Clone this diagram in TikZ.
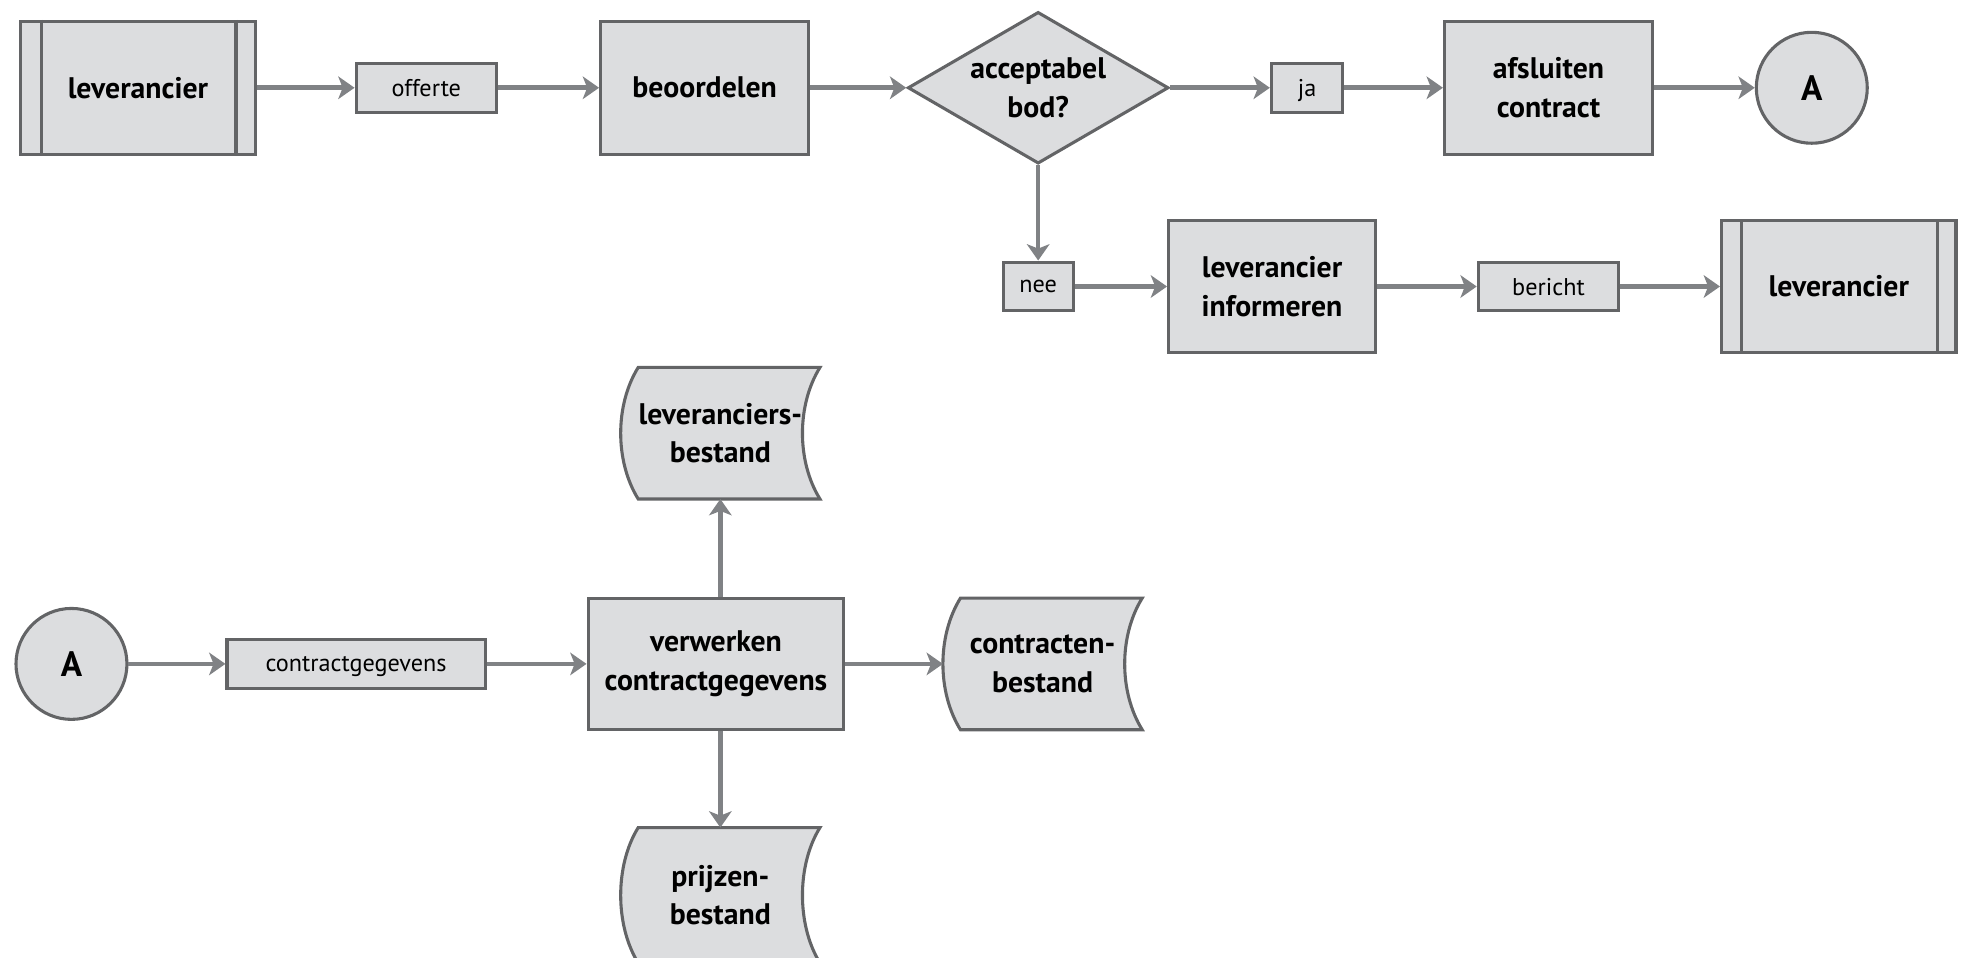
\documentclass[tikz,border=0pt]{standalone}
\usepackage{fontspec}
\setmainfont{PT Sans}
\usetikzlibrary{arrows.meta,shapes.geometric,calc}
\pgfdeclarelayer{bg}
\pgfsetlayers{bg,main}
\definecolor{fl}{HTML}{DCDDDF}
\definecolor{bd}{HTML}{636466}
\definecolor{ac}{HTML}{808285}
\newcommand\storepath[1]{%
  \draw[storeline] ([xshift=0.28cm]#1.north west) -- (#1.north east)
    .. controls ([xshift=-0.373cm,yshift=-0.6cm]#1.north east) and ([xshift=-0.373cm,yshift=0.6cm]#1.south east) .. (#1.south east)
    -- ([xshift=0.28cm]#1.south west)
    .. controls ([xshift=-0.093cm,yshift=0.6cm]#1.south west) and ([xshift=-0.093cm,yshift=-0.6cm]#1.north west) .. cycle;}
\begin{document}
\begin{tikzpicture}[x=0.02cm,y=-0.02cm,
  bfont/.style={font=\bfseries\fontsize{13.5}{17.5}\selectfont},
  box/.style={draw=bd,fill=fl,line width=1.4pt,inner sep=0pt,align=center,bfont},
  lbl/.style={draw=bd,fill=fl,line width=1.4pt,inner sep=0pt,minimum height=0.78cm,text depth=0pt,font=\fontsize{11}{13}\selectfont},
  conn/.style={circle,draw=bd,fill=fl,line width=1.4pt,inner sep=0pt,minimum size=1.77cm,font=\bfseries\fontsize{16}{19}\selectfont},
  dec/.style={diamond,aspect=1.72,draw=bd,fill=fl,line width=1.4pt,inner sep=0pt,align=center,minimum width=4.16cm,minimum height=2.42cm,bfont},
  store/.style={inner sep=0pt,outer sep=0pt,align=center,minimum width=3.18cm,minimum height=2.1cm,bfont},
  storeline/.style={draw=bd,fill=fl,line width=1.4pt},
  arr/.style={draw=ac,line width=2.1pt,-{Stealth[length=0.26cm,width=0.36cm,inset=0.07cm]}},
  sideline/.style={draw=bd,line width=1.4pt}]
\useasboundingbox (0,0) rectangle (1568,764);

% top row
\node[box,minimum width=3.76cm,minimum height=2.12cm] (lev1) at (110,70) {leverancier};
\node[lbl,minimum width=2.24cm] (off) at (340,70) {offerte};
\node[box,minimum width=3.32cm,minimum height=2.12cm] (beo) at (562,70) {beoordelen};
\node[dec] (dia) at (828,70) {acceptabel\\bod?};
\node[lbl,minimum width=1.14cm] (ja) at (1042.5,70) {ja};
\node[box,minimum width=3.32cm,minimum height=2.12cm] (afs) at (1235,70) {afsluiten\\contract};
\node[conn] (A1) at (1445,70) {A};

% second row
\node[lbl,minimum width=1.12cm] (nee) at (828,228.5) {nee};
\node[box,minimum width=3.3cm,minimum height=2.1cm] (inf) at (1014.5,228.5) {leverancier\\informeren};
\node[lbl,minimum width=2.24cm] (ber) at (1235,228.5) {bericht};
\node[box,minimum width=3.74cm,minimum height=2.1cm] (lev2) at (1466.5,228.5) {leverancier};

% side lines
\draw[sideline] ([xshift=0.36cm]lev1.north west) -- ([xshift=0.36cm]lev1.south west);
\draw[sideline] ([xshift=-0.34cm]lev1.north east) -- ([xshift=-0.34cm]lev1.south east);
\draw[sideline] ([xshift=0.34cm]lev2.north west) -- ([xshift=0.34cm]lev2.south west);
\draw[sideline] ([xshift=-0.32cm]lev2.north east) -- ([xshift=-0.32cm]lev2.south east);

% bottom part
\node[store] (lb) at (574.5,345.5) {leveranciers-\\bestand};
\node[conn] (A2) at (57,529.5) {A};
\node[lbl,minimum width=4.12cm] (cg) at (284,529.5) {contractgegevens};
\node[box,minimum width=4.08cm,minimum height=2.1cm] (ver) at (571,529.5) {verwerken\\contractgegevens};
\node[store] (cb) at (831.5,529.5) {contracten-\\bestand};
\node[store,minimum height=2.16cm] (pb) at (574.5,714) {prijzen-\\bestand};

\begin{pgfonlayer}{bg}
\storepath{lb}
\storepath{cb}
\storepath{pb}
\end{pgfonlayer}

% connectors
\draw[arr] (lev1) -- (off);
\draw[arr] (off) -- (beo);
\draw[arr] (beo) -- (dia);
\draw[arr] (dia) -- (ja);
\draw[arr] (ja) -- (afs);
\draw[arr] (afs) -- (A1);
\draw[arr] (dia.south) -- (nee.north);
\draw[arr] (nee) -- (inf);
\draw[arr] (inf) -- (ber);
\draw[arr] (ber) -- (lev2);
\draw[arr] (A2) -- (cg);
\draw[arr] (cg) -- (ver);
\draw[arr] (ver.east) -- (cb.west);
\draw[arr] (lb.south |- ver.north) -- (lb.south);
\draw[arr] (pb.north |- ver.south) -- (pb.north);
\end{tikzpicture}
\end{document}
